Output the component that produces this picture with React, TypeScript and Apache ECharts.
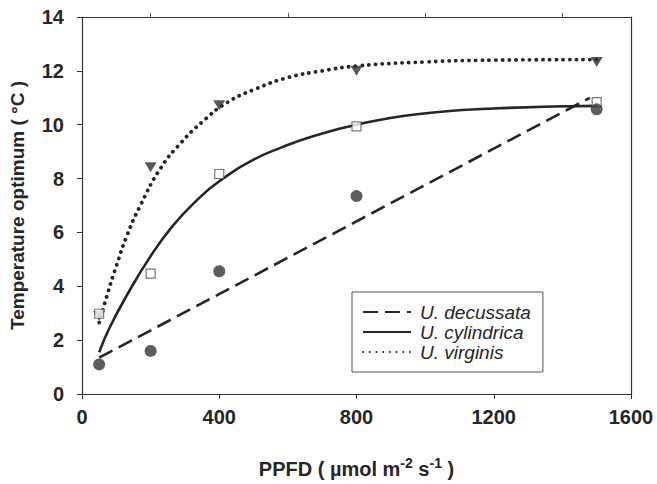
import React, { useEffect, useRef } from "react";
import * as echarts from "echarts";

// Observed data points
const xObs = [50, 200, 400, 800, 1500];
const decussataObs = [1.1, 1.6, 4.56, 7.35, 10.57];
const cylindricaObs = [2.98, 4.47, 8.17, 9.94, 10.84];
const virginisObs = [2.9, 8.42, 10.72, 12.0, 12.33];

// Fitted curves
const decussataFitX = [50, 1480];
const decussataFitY = [1.35, 11.0];
const cylindricaFitX = [50, 80, 130, 200, 265, 335, 400, 500, 580, 680, 800, 970, 1200, 1500];
const cylindricaFitY = [1.55, 2.45, 3.65, 5.12, 6.25, 7.2, 7.9, 8.7, 9.15, 9.6, 10.0, 10.38, 10.6, 10.7];
const virginisFitX = [50, 75, 100, 130, 170, 230, 290, 350, 420, 500, 600, 700, 800, 1000, 1200, 1500];
const virginisFitY = [2.65, 3.75, 4.75, 5.85, 7.0, 8.4, 9.35, 10.1, 10.8, 11.3, 11.75, 12.0, 12.18, 12.33, 12.4, 12.42];

const seriesNames = ["U. decussata", "U. cylindrica", "U. virginis"];
// top frame axis: tick marks only at the odd (200, 600, 1000, 1400) positions
const topAxisSteps = ["0", "200", "400", "600", "800", "1000", "1200", "1400", "1600"];

const FONT = "'Liberation Sans', Arial, Helvetica, sans-serif";
const DARK = "#262626";
const MARK = "#353535";

const pairs = (xs: number[], ys: number[]) => xs.map((x, i) => [x, ys[i]]);

export default function App() {
  const ref = useRef<HTMLDivElement>(null);
  useEffect(() => {
    if (!ref.current) return;
    const chart = echarts.init(ref.current, null, { renderer: "svg" });
    const axisLine = { show: true, onZero: false, lineStyle: { color: "#333", width: 1.2 } };
    chart.setOption({
      animation: false,
      backgroundColor: "#fff",
      grid: { left: 81, right: 26, top: 17, bottom: 84, containLabel: false },
      legend: {
        data: seriesNames,
        orient: "vertical",
        left: 352,
        top: 292,
        padding: [10, 12, 10, 10],
        itemWidth: 48,
        itemHeight: 14,
        itemGap: 0,
        borderColor: "#555",
        borderWidth: 1,
        backgroundColor: "#fff",
        itemStyle: { opacity: 0 },
        textStyle: {
          fontFamily: FONT,
          fontSize: 19,
          fontStyle: "italic",
          color: DARK,
          lineHeight: 20,
          padding: [0, 0, 0, 4],
        },
      },
      xAxis: [
        {
          type: "value",
          min: 0,
          max: 1600,
          interval: 400,
          position: "bottom",
          name: "PPFD ( µmol m{sup|-2} s{sup|-1} )",
          nameLocation: "middle",
          nameGap: 62,
          nameTextStyle: {
            fontFamily: FONT,
            fontSize: 20,
            fontWeight: "bold",
            color: DARK,
            rich: {
              sup: {
                fontFamily: FONT,
                fontSize: 14,
                fontWeight: "bold",
                color: DARK,
                padding: [0, 0, 12, 0],
              },
            },
          },
          axisLine,
          axisTick: { show: true, inside: false, length: 5, lineStyle: { color: "#333" } },
          minorTick: { show: false },
          axisLabel: {
            fontFamily: FONT,
            fontSize: 20,
            fontWeight: "bold",
            color: DARK,
            margin: 13,
            formatter: (v: number) => String(v),
          },
          splitLine: { show: false },
        },
        {
          type: "category",
          data: topAxisSteps,
          boundaryGap: false,
          position: "top",
          axisLine,
          axisTick: {
            show: true,
            inside: false,
            length: 4,
            interval: (i: number) => i % 2 === 1,
            lineStyle: { color: "#555" },
          },
          axisLabel: { show: false },
          splitLine: { show: false },
        },
      ],
      yAxis: [
        {
          type: "value",
          min: 0,
          max: 14,
          interval: 2,
          position: "left",
          name: "Temperature optimum ( °C )",
          nameLocation: "middle",
          nameGap: 55,
          nameTextStyle: { fontFamily: FONT, fontSize: 19, fontWeight: "bold", color: DARK },
          axisLine,
          axisTick: { show: true, inside: false, length: 5, lineStyle: { color: "#333" } },
          axisLabel: {
            fontFamily: FONT,
            fontSize: 20,
            fontWeight: "bold",
            color: DARK,
            margin: 18,
            formatter: (v: number) => String(v),
          },
          splitLine: { show: false },
        },
        {
          type: "value",
          min: 0,
          max: 14,
          position: "right",
          axisLine,
          axisTick: { show: false },
          axisLabel: { show: false },
          splitLine: { show: false },
        },
      ],
      series: [
        {
          name: seriesNames[0],
          type: "line",
          data: pairs(decussataFitX, decussataFitY),
          symbol: "none",
          lineStyle: { color: DARK, width: 2.6, type: [15, 7] },
          itemStyle: { color: DARK },
          z: 2,
        },
        {
          name: seriesNames[1],
          type: "line",
          data: pairs(cylindricaFitX, cylindricaFitY),
          symbol: "none",
          smooth: 0.5,
          lineStyle: { color: DARK, width: 2.6, type: "solid" },
          itemStyle: { color: DARK },
          z: 2,
        },
        {
          name: seriesNames[2],
          type: "line",
          data: pairs(virginisFitX, virginisFitY),
          symbol: "none",
          smooth: 0.5,
          lineStyle: { color: DARK, width: 3.8, type: [0.1, 6.6], cap: "round" },
          itemStyle: { color: DARK },
          z: 2,
        },
        {
          name: "virginis-obs",
          type: "scatter",
          data: pairs(xObs, virginisObs),
          symbol: "triangle",
          symbolRotate: 180,
          symbolSize: [12, 10],
          itemStyle: { color: "#2e2e2e" },
          z: 3,
        },
        {
          name: "cylindrica-obs",
          type: "scatter",
          data: pairs(xObs, cylindricaObs),
          symbol: "rect",
          symbolSize: 9,
          itemStyle: { color: "#fff", borderColor: "#555", borderWidth: 1.2 },
          z: 4,
        },
        {
          name: "decussata-obs",
          type: "scatter",
          data: pairs(xObs, decussataObs),
          symbol: "circle",
          symbolSize: 12,
          itemStyle: { color: MARK },
          z: 5,
        },
      ],
    });
    return () => chart.dispose();
  }, []);
  return (
    <div
      ref={ref}
      style={{ position: "fixed", left: 0, top: 0, width: 657, height: 484, background: "#fff" }}
    />
  );
}
